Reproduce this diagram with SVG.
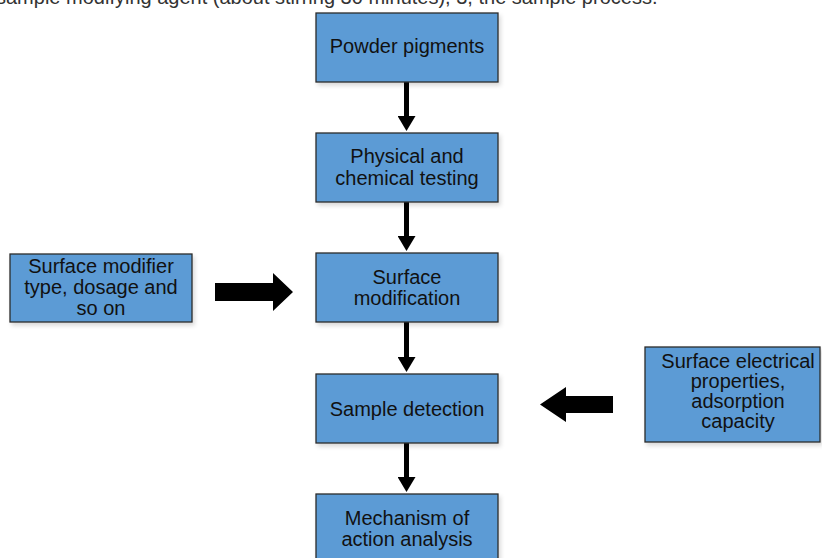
<svg xmlns="http://www.w3.org/2000/svg" width="822" height="558" viewBox="0 0 822 558">
<style>
.box{fill:#5B9BD5;stroke:#2B2B2B;stroke-width:1.3;filter:url(#sh)}
.t{font-family:"Liberation Sans",Arial,sans-serif;font-size:20px;fill:#111;text-anchor:middle}
.top{font-family:"Liberation Sans",Arial,sans-serif;font-size:20px;fill:#333}
.v{stroke:#000;stroke-width:5;fill:none;marker-end:url(#ah)}
.big{fill:#000}
</style>
<defs>
<filter id="sh" x="-10%" y="-10%" width="130%" height="130%">
<feDropShadow dx="2" dy="3" stdDeviation="2" flood-color="#000" flood-opacity="0.15"/>
</filter>
<marker id="ah" markerUnits="userSpaceOnUse" markerWidth="15" markerHeight="18" refX="1" refY="9" orient="auto" viewBox="0 0 15 18">
<path d="M0,0 L15,9 L0,18 Z" fill="#000"/>
</marker>
</defs>
<rect width="822" height="558" fill="#fff"/>
<text class="top" x="-4" y="4">sample modifying agent (about stirring 30 minutes), 3, the sample process.</text>
<g id="connectors">
<path class="v" d="M406.5,82 V117"/>
<path class="v" d="M406.5,202 V237"/>
<path class="v" d="M406.5,322 V358"/>
<path class="v" d="M406.5,443 V478"/>
<path class="big" d="M215,283 H273 V273 L293,292 L273,311 V301 H215 Z"/>
<path class="big" d="M613,396 H566 V387 L540,404.5 L566,422 V413 H613 Z"/>
</g>
<g id="n1"><rect class="box" x="316" y="13" width="182" height="69"/><text class="t" x="407" y="53">Powder pigments</text></g>
<g id="n2"><rect class="box" x="316" y="133" width="182" height="69"/><text class="t" x="407" y="163">Physical and</text><text class="t" x="407" y="185">chemical testing</text></g>
<g id="n3"><rect class="box" x="316" y="253" width="182" height="69"/><text class="t" x="407" y="284">Surface</text><text class="t" x="407" y="305">modification</text></g>
<g id="n4"><rect class="box" x="316" y="374" width="182" height="69"/><text class="t" x="407" y="416">Sample detection</text></g>
<g id="n5"><rect class="box" x="316" y="494" width="182" height="70"/><text class="t" x="407" y="525">Mechanism of</text><text class="t" x="407" y="546">action analysis</text></g>
<g id="n6"><rect class="box" x="10" y="254" width="182" height="68"/><text class="t" x="101" y="273">Surface modifier</text><text class="t" x="101" y="294">type, dosage and</text><text class="t" x="101" y="315">so on</text></g>
<g id="n7"><rect class="box" x="645" y="347" width="175" height="95"/><text class="t" x="738" y="368">Surface electrical</text><text class="t" x="738" y="388">properties,</text><text class="t" x="738" y="408">adsorption</text><text class="t" x="738" y="428">capacity</text></g>
</svg>
